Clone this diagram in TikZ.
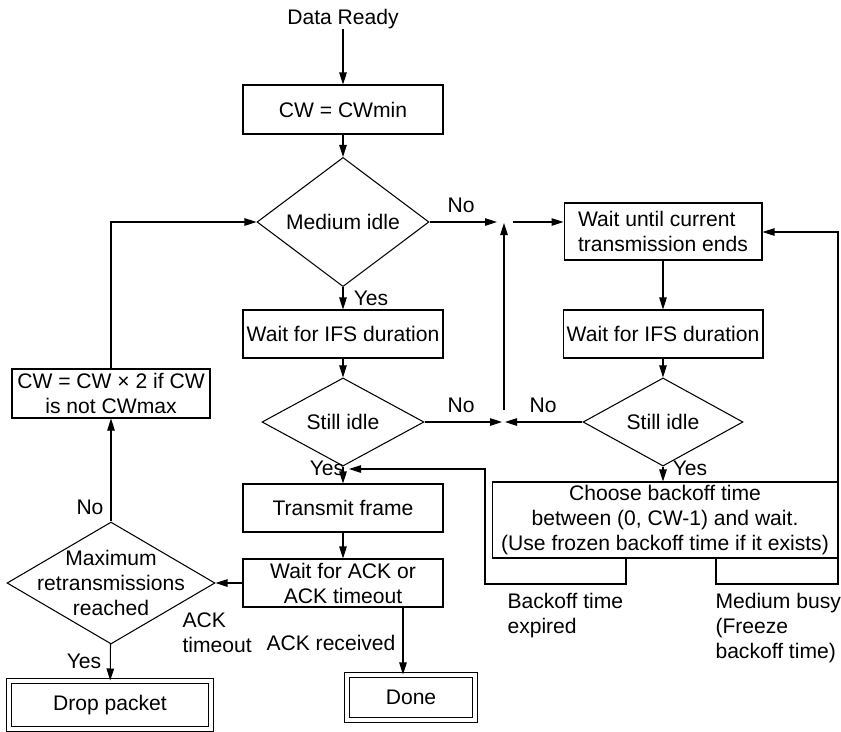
\documentclass[tikz,border=0pt]{standalone}
\usepackage{fontspec}
\setmainfont{Liberation Sans}
\usetikzlibrary{shapes.geometric, arrows.meta}

\begin{document}
\begin{tikzpicture}[x=0.02cm, y=-0.02cm, line width=0.6pt,
    font=\fontsize{12pt}{14.2pt}\selectfont,
    box/.style={draw, rectangle, inner sep=0pt, align=center},
    decision/.style={draw, diamond, inner sep=0pt, align=center},
    final/.style={box, double, double distance=0.8mm},
    flow/.style={-{Triangle[length=2.4mm, width=1.5mm]}},
    note/.style={inner sep=0pt}]
  \useasboundingbox (0, 0) rectangle (841, 731);

  % main column
  \node [note] (ready) at (343, 19) {Data Ready};
  \node [box, minimum width=4cm, minimum height=0.98cm] (cwmin) at (343, 109.5) {CW = CWmin};
  \node [decision, minimum width=3.44cm, minimum height=1.5cm] (medium) at (343, 222) {Medium idle};
  \node [box, minimum width=4cm, minimum height=0.96cm] (ifsleft) at (343, 334) {Wait for IFS duration};
  \node [decision, minimum width=3.24cm, minimum height=1.52cm] (idleleft) at (343, 422) {Still idle};
  \node [box, minimum width=4cm, minimum height=0.96cm] (transmit) at (343, 508) {Transmit frame};
  \node [box, minimum width=4cm, minimum height=0.96cm] (ackwait) at (343, 583) {Wait for ACK or\\ACK timeout};
  \node [final, minimum width=2.56cm, minimum height=0.9cm] (done) at (411, 697.5) {Done};

  % retry column
  \node [box, minimum width=3.96cm, minimum height=0.98cm] (cwdouble) at (111, 393.5) {CW = CW × 2 if CW\\is not CWmax};
  \node [decision, minimum width=4.16cm, minimum height=2.44cm] (maxretry) at (111, 583) {};
  \node [note, align=center] (maxretry-text) at (maxretry) {Maximum\\retransmissions\\reached};
  \node [final, minimum width=4.04cm, minimum height=0.96cm] (drop) at (110, 705) {Drop packet};

  % busy column
  \node [box, align=left, minimum width=3.96cm, minimum height=1.14cm] (waitend) at (663, 231.5) {Wait until current\\transmission ends};
  \node [box, minimum width=4cm, minimum height=0.96cm] (ifsright) at (663, 334) {Wait for IFS duration};
  \node [decision, minimum width=3.2cm, minimum height=1.52cm] (idleright) at (663, 422) {Still idle};
  \node [box, minimum width=6.92cm, minimum height=1.52cm] (backoff) at (665, 520) {Choose backoff time\\between (0, CW-1) and wait.\\(Use frozen backoff time if it exists)};

  % branch labels
  \node [note] (no-medium) at (461, 205) {No};
  \node [note] (yes-medium) at (371, 298) {Yes};
  \node [note] (no-idleleft) at (461, 405) {No};
  \node [note] (no-idleright) at (543, 405) {No};
  \node [note] (yes-idleleft) at (327, 468) {Yes};
  \node [note] (yes-idleright) at (690, 468) {Yes};
  \node [note] (no-maxretry) at (90, 507) {No};
  \node [note] (yes-maxretry) at (84, 661) {Yes};
  \node [note, align=left, anchor=north west] (timeout) at (182, 612) {ACK\\timeout};
  \node [note] (received) at (331, 643) {ACK received};
  \node [note, align=left, anchor=north west] (expired) at (507, 593) {Backoff time\\expired};
  \node [note, align=left, anchor=north west] (busy) at (715, 593) {Medium busy\\(Freeze\\backoff time)};

  % junctions and bends
  \coordinate (busyjoin-w) at (497, 222);
  \coordinate (busyjoin-s) at (504, 223);
  \coordinate (busyjoin-e) at (513, 222);
  \coordinate (idlejoin-w) at (502, 422);
  \coordinate (idlejoin-e) at (505, 422);
  \coordinate (idlejoin-n) at (504, 410);
  \coordinate (expired-a) at (626, 584);
  \coordinate (expired-b) at (485, 469);
  \coordinate (expired-c) at (349, 469);
  \coordinate (busy-a) at (716, 584);
  \coordinate (busy-b) at (838, 232);
  \coordinate (ackdown) at (403, 608);

  \draw [flow] (ready) -- (cwmin);
  \draw [flow] (cwmin) -- (medium);
  \draw [flow] (medium) -- (busyjoin-w);
  \draw [flow] (busyjoin-e) -- (busyjoin-e -| waitend.west);
  \draw [flow] (idlejoin-n) -- (busyjoin-s);
  \draw [flow] (medium) -- (ifsleft);
  \draw [flow] (ifsleft) -- (idleleft);
  \draw [flow] (idleleft) -- (idlejoin-w);
  \draw [flow] (idleright) -- (idlejoin-e);
  \draw [flow] (idleleft) -- (transmit);
  \draw [flow] (transmit) -- (ackwait);
  \draw [flow] (ackwait.south -| ackdown) -- (done.north -| ackdown);
  \draw [flow] (ackwait) -- (maxretry);
  \draw [flow] (maxretry) -- (drop);
  \draw [flow] (maxretry) -- (cwdouble);
  \draw [flow] (cwdouble) |- (medium);
  \draw [flow] (waitend) -- (ifsright);
  \draw [flow] (ifsright) -- (idleright);
  \draw [flow] (idleright) -- (backoff.north -| idleright);
  \draw [flow] (backoff.south -| expired-a) -- (expired-a) -| (expired-b) -- (expired-c);
  \draw [flow] (backoff.south -| busy-a) -- (busy-a) -| (busy-b) -- (busy-b -| waitend.east);
\end{tikzpicture}
\end{document}
